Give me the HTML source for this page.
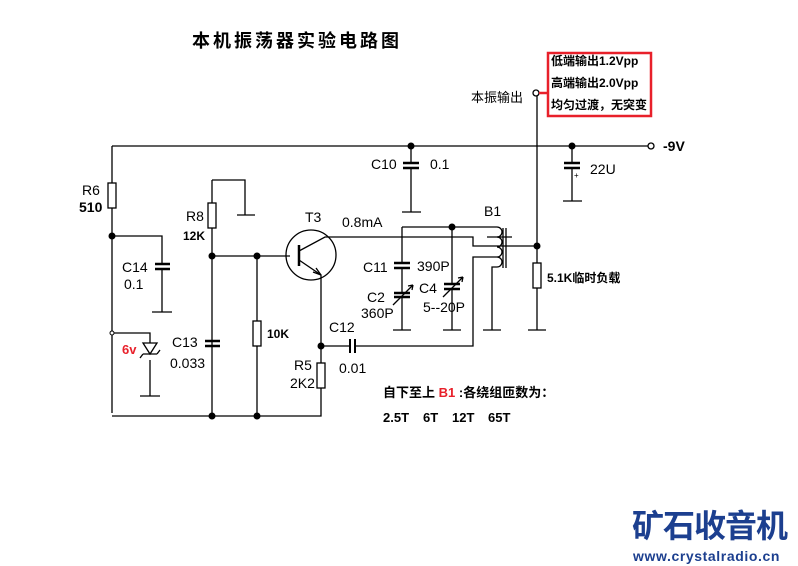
<!DOCTYPE html>
<html><head><meta charset="utf-8"><style>
body{margin:0;background:#fff;}
svg{display:block;font-family:"Liberation Sans","Noto Sans CJK SC",sans-serif;}
</style></head><body>
<svg width="798" height="566" viewBox="0 0 798 566" xmlns="http://www.w3.org/2000/svg">
<g stroke="#000" stroke-width="1.3" fill="none">
<path d="M112 146H648"/>
<circle cx="651" cy="146" r="3" fill="#fff"/>
<path d="M112 146V183M112 208V413"/>
<rect x="108" y="183" width="8" height="25" fill="#fff"/>
<path d="M112 236H162V264M162 269V312M152 312H172" />
<path d="M155 264H170M155 269H170" stroke-width="2.5"/>
<path d="M112 333H150V343M150 360V396M140 396H160"/>
<path d="M143 343H157L150 354Z"/>
<path d="M143 354H157M143 354L140 358M157 354L160 350"/>
<path d="M112 416H321V388"/>
<path d="M212 180H245V215M237 215H255M212 180V203M212 228V416"/>
<rect x="208" y="203" width="8" height="25" fill="#fff"/>
<path d="M212 256H290"/>
<path d="M205 341H220M205 346H220" stroke-width="2.5"/>
<path d="M257 256V321M257 346V416"/>
<rect x="253" y="321" width="8" height="25" fill="#fff"/>
<circle cx="311" cy="255" r="25"/>
<path d="M299 245V266" stroke-width="2.5"/>
<path d="M299 251L325 237H473V246H497M299 260L321 275V363"/>
<path d="M321 275L313 272M321 275L316 268"/>
<path d="M321 346H350M355 346H473V257H497"/>
<path d="M350 339V353M355 339V353" stroke-width="2"/>
<rect x="317" y="363" width="8" height="25" fill="#fff"/>
<path d="M411 146V163M411 168V212M402 212H421"/>
<path d="M403 163H419M403 168H419" stroke-width="2.5"/>
<path d="M572 146V163M572 168V201M563 201H582"/>
<path d="M564 163H580M564 168H580" stroke-width="2.5"/>
<path d="M402 227H497M402 227V263M402 268V293M402 297V330M393 330H411"/>
<path d="M394 263H410M394 268H410M394 293H410M394 297H410" stroke-width="2.5"/>
<path d="M393 305L413 285M413 285L408 286M413 285L412 290"/>
<path d="M452 227V284M452 289V330M443 330H461"/>
<path d="M444 284H460M444 289H460" stroke-width="2.5"/>
<path d="M443 297L463 277M463 277L458 278M463 277L462 282"/>
<path d="M497 227 a4 4 0 0 1 0 10 a4 4 0 0 1 0 10 a4 4 0 0 1 0 10 a4 4 0 0 1 0 10 M497 267H492V330M483 330H501"/>
<path d="M503 228V268M506 228V268"/>
<path d="M487 237H512"/>
<path d="M497 246H537M537 93V263M537 288V330M528 330H546"/>
<rect x="533" y="263" width="8" height="25" fill="#fff"/>
<circle cx="536" cy="93" r="3" fill="#fff"/>
</g>
<path d="M539 93H549" stroke="#e8202a" stroke-width="2.5"/>
<rect x="548" y="53" width="103" height="63" fill="none" stroke="#e8202a" stroke-width="2.5"/>
<g fill="#000">
<circle cx="112" cy="236" r="3.5"/><circle cx="212" cy="256" r="3.5"/><circle cx="257" cy="256" r="3.5"/>
<circle cx="212" cy="416" r="3.5"/><circle cx="257" cy="416" r="3.5"/><circle cx="321" cy="346" r="3.5"/>
<circle cx="411" cy="146" r="3.5"/><circle cx="572" cy="146" r="3.5"/><circle cx="452" cy="227" r="3.5"/>
<circle cx="537" cy="246" r="3.5"/>
</g>
<circle cx="112" cy="333" r="2" fill="#fff" stroke="#000"/>
<g font-size="14" fill="#000">
<text x="82" y="195">R6</text>
<text x="79" y="212" font-weight="bold">510</text>
<text x="186" y="221">R8</text>
<text x="183" y="240" font-size="12" font-weight="bold">12K</text>
<text x="122" y="272">C14</text>
<text x="124" y="289">0.1</text>
<text x="122" y="354" fill="#e8202a" font-weight="bold" font-size="13">6v</text>
<text x="172" y="347">C13</text>
<text x="170" y="368">0.033</text>
<text x="267" y="338" font-size="12" font-weight="bold">10K</text>
<text x="305" y="222">T3</text>
<text x="342" y="227">0.8mA</text>
<text x="329" y="332">C12</text>
<text x="339" y="373">0.01</text>
<text x="294" y="370">R5</text>
<text x="290" y="388">2K2</text>
<text x="371" y="169">C10</text>
<text x="430" y="169">0.1</text>
<text x="590" y="174">22U</text>
<text x="574" y="178" font-size="8">+</text>
<text x="484" y="216">B1</text>
<text x="363" y="272">C11</text>
<text x="417" y="271">390P</text>
<text x="367" y="302">C2</text>
<text x="361" y="318">360P</text>
<text x="419" y="293">C4</text>
<text x="423" y="312">5--20P</text>
<text x="547" y="282" font-size="12" font-weight="bold">5.1K临时负载</text>
<text x="663" y="151" font-weight="bold">-9V</text>
<text x="471" y="102" font-size="13">本振输出</text>
<text x="551" y="65" font-size="12" font-weight="bold">低端输出1.2Vpp</text>
<text x="551" y="87" font-size="12" font-weight="bold">高端输出2.0Vpp</text>
<text x="551" y="109" font-size="12" font-weight="bold">均匀过渡，无突变</text>
<text x="383" y="397" font-size="13" font-weight="bold">自下至上 <tspan fill="#e8202a">B1</tspan> :各绕组匝数为：</text>
<text y="422" font-size="13" font-weight="bold"><tspan x="383">2.5T</tspan><tspan x="423">6T</tspan><tspan x="452">12T</tspan><tspan x="488">65T</tspan></text>
</g>
<text x="192" y="47" font-size="18" font-weight="bold" letter-spacing="3">本机振荡器实验电路图</text>
<text x="632" y="537" font-size="32" font-weight="bold" fill="#1c3f8f" letter-spacing="-1">矿石收音机</text>
<text x="633" y="561" font-size="14" font-weight="bold" fill="#1c3f8f" letter-spacing="0.6">www.crystalradio.cn</text>
</svg>
</body></html>
